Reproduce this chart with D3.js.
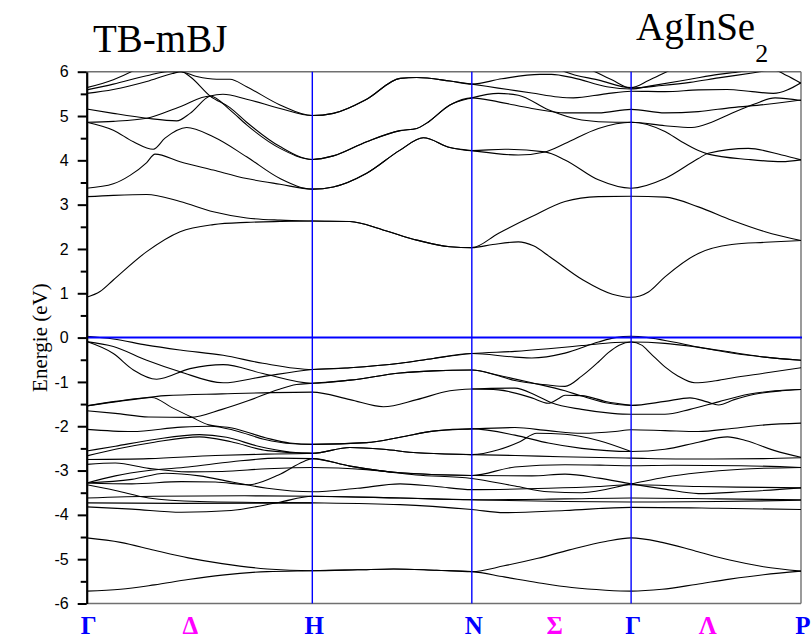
<!DOCTYPE html>
<html>
<head>
<meta charset="utf-8">
<script src="https://cdn.jsdelivr.net/npm/d3@7"></script>
<style>
  html, body { margin: 0; padding: 0; background: #fff; }
  svg { display: block; }
</style>
</head>
<body>
<svg id="chart" width="811" height="639"></svg>
<script>
// High-symmetry points along the path and their k positions
const symLabels = ["Γ", "H", "N", "Γ", "P"];
const symK = [0, 1.0, 1.707, 2.413, 3.166];
// Line labels between the points
const lineLabels = ["Δ", "Σ", "Λ"];
const lineK = [0.459, 2.074, 2.752];
// Energy axis (eV)
const yMajor = [-6, -5, -4, -3, -2, -1, 0, 1, 2, 3, 4, 5, 6];
const yMinor = [-5.5, -4.5, -3.5, -2.5, -1.5, -0.5, 0.5, 1.5, 2.5, 3.5, 4.5, 5.5];

// Conduction bands: [k, E]
const conductionBands = [
  [[0,0.91],[0.059,1.04],[0.118,1.30],[0.266,1.94],[0.414,2.39],[0.561,2.55],[0.709,2.60],[0.857,2.62],[1.0,2.63],[1.167,2.62],[1.313,2.43],[1.463,2.20],[1.61,2.05],[1.707,2.03],[1.80,2.10],[1.913,2.16],[1.98,2.07],[2.054,1.82],[2.2,1.30],[2.33,0.98],[2.413,0.91],[2.49,1.03],[2.563,1.37],[2.711,1.90],[2.859,2.10],[3.007,2.15],[3.166,2.19]],
  [[0,3.18],[0.118,3.21],[0.266,3.23],[0.414,3.07],[0.561,2.84],[0.709,2.70],[0.857,2.65],[1.0,2.63],[1.167,2.62],[1.313,2.43],[1.463,2.20],[1.61,2.05],[1.707,2.03],[1.824,2.35],[1.973,2.73],[2.12,3.07],[2.268,3.18],[2.413,3.19],[2.563,3.17],[2.711,2.95],[2.859,2.65],[3.007,2.39],[3.166,2.19]],
  [[0,3.37],[0.118,3.47],[0.192,3.66],[0.266,3.95],[0.303,4.14],[0.414,3.97],[0.561,3.78],[0.709,3.59],[0.857,3.46],[1.0,3.35],[1.093,3.40],[1.241,3.71],[1.389,4.23],[1.492,4.51],[1.61,4.29],[1.707,4.22],[1.854,4.25],[2.031,4.19],[2.12,4.01],[2.268,3.56],[2.413,3.37],[2.563,3.59],[2.711,4.04],[2.755,4.16],[2.933,4.27],[3.081,4.12],[3.166,4.01]],
  [[0,4.86],[0.118,4.68],[0.207,4.42],[0.295,4.25],[0.347,4.50],[0.443,4.74],[0.561,4.53],[0.709,4.08],[0.857,3.59],[1.0,3.35],[1.093,3.40],[1.241,3.71],[1.389,4.23],[1.492,4.51],[1.61,4.29],[1.707,4.22],[1.913,4.12],[2.031,4.19],[2.12,4.38],[2.268,4.72],[2.413,4.86],[2.563,4.65],[2.637,4.42],[2.711,4.22],[2.755,4.14],[2.933,4.02],[3.081,3.97],[3.166,4.01]],
  [[0,5.16],[0.118,5.06],[0.266,4.95],[0.399,4.89],[0.458,5.06],[0.547,5.45],[0.604,5.49],[0.709,5.38],[0.857,5.17],[1.0,5.01],[1.093,5.06],[1.241,5.38],[1.389,5.85],[1.463,5.87],[1.61,5.79],[1.707,5.72],[1.84,5.84],[2.009,5.94],[2.06,5.94],[2.157,5.86],[2.305,5.66],[2.413,5.61],[2.5,5.68],[2.674,5.83],[2.80,5.94],[2.896,6.0],[3.0,6.1]],
  [[0,4.86],[0.118,4.88],[0.266,4.95],[0.414,5.21],[0.547,5.45],[0.635,5.14],[0.709,4.80],[0.857,4.27],[1.0,4.02],[1.093,4.10],[1.241,4.42],[1.389,4.67],[1.463,4.72],[1.507,4.84],[1.61,5.25],[1.707,5.41],[1.824,5.32],[1.973,5.17],[2.12,5.07],[2.268,5.07],[2.413,5.15],[2.563,5.07],[2.711,5.10],[2.859,5.19],[3.007,5.26],[3.166,5.36]],
  [[0,5.51],[0.118,5.60],[0.266,5.78],[0.38,5.96],[0.42,6.0],[0.46,5.88],[0.547,5.45],[0.635,5.19],[0.709,4.86],[0.857,4.31],[1.0,4.02],[1.093,4.10],[1.241,4.42],[1.389,4.67],[1.463,4.72],[1.507,4.84],[1.61,5.25],[1.707,5.41],[1.824,5.51],[1.913,5.47],[2.046,5.14],[2.194,4.91],[2.342,4.86],[2.413,4.86],[2.563,4.78],[2.682,4.74],[2.77,4.86],[2.859,5.06],[2.96,5.27],[3.051,5.41],[3.166,5.35]],
  [[0,5.59],[0.118,5.72],[0.266,5.91],[0.357,6.0],[0.414,6.0],[0.488,5.89],[0.576,5.83],[0.635,5.83],[0.709,5.66],[0.857,5.25],[1.0,5.01],[1.093,5.06],[1.241,5.38],[1.389,5.85],[1.463,5.87],[1.61,5.79],[1.707,5.72],[1.824,5.63],[1.973,5.52],[2.09,5.43],[2.157,5.41],[2.30,5.50],[2.413,5.56],[2.563,5.55],[2.711,5.59],[2.837,5.60],[2.95,5.55],[3.043,5.51],[3.166,5.75]],
  [[0,5.64],[0.118,5.82],[0.206,6.02],[0.3,6.3],[0.6,6.7],[1.2,6.8],[1.9,6.5],[2.06,6.15],[2.12,6.0],[2.27,5.81],[2.413,5.64],[2.49,5.80],[2.571,6.0],[2.7,6.3],[3.166,6.6]],
  [[1.9,6.8],[2.1,6.4],[2.253,6.0],[2.33,5.81],[2.413,5.63],[2.55,5.69],[2.674,5.76],[2.80,5.86],[2.95,5.97],[3.043,6.04],[3.10,5.92],[3.166,5.74]]
];

// Valence bands: [k, E]
const valenceBands = [
  [[0,0.03],[0.118,-0.03],[0.266,-0.17],[0.414,-0.28],[0.605,-0.40],[0.781,-0.58],[1.0,-0.72],[1.167,-0.68],[1.389,-0.58],[1.536,-0.47],[1.707,-0.36],[1.898,-0.44],[1.973,-0.46],[2.12,-0.35],[2.268,-0.10],[2.342,0.0],[2.413,0.03],[2.489,0.0],[2.60,-0.10],[2.75,-0.25],[2.933,-0.40],[3.166,-0.51]],
  [[0,-0.09],[0.118,-0.20],[0.266,-0.51],[0.414,-0.77],[0.605,-1.02],[0.781,-0.88],[1.0,-0.72],[1.167,-0.68],[1.389,-0.58],[1.536,-0.47],[1.707,-0.36],[1.898,-0.31],[2.046,-0.25],[2.194,-0.18],[2.342,-0.11],[2.413,-0.10],[2.563,-0.13],[2.711,-0.22],[2.859,-0.33],[3.007,-0.44],[3.166,-0.51]],
  [[0,-0.09],[0.118,-0.36],[0.207,-0.73],[0.31,-0.94],[0.458,-0.70],[0.605,-0.61],[0.781,-0.81],[1.0,-1.03],[1.167,-0.96],[1.389,-0.80],[1.536,-0.75],[1.707,-0.73],[1.825,-0.86],[1.898,-0.97],[2.046,-1.07],[2.12,-1.10],[2.194,-0.87],[2.268,-0.55],[2.312,-0.34],[2.36,-0.17],[2.413,-0.10],[2.46,-0.17],[2.50,-0.36],[2.563,-0.66],[2.622,-0.87],[2.696,-1.02],[2.78,-0.98],[2.859,-0.91],[3.007,-0.80],[3.166,-0.68]],
  [[0,-1.65],[0.127,-1.71],[0.275,-1.79],[0.46,-1.80],[0.60,-1.62],[0.718,-1.42],[0.85,-1.17],[0.93,-1.06],[1.0,-1.03],[1.167,-0.96],[1.389,-0.80],[1.536,-0.75],[1.707,-0.73],[1.825,-0.85],[1.973,-1.02],[2.12,-1.20],[2.194,-1.32],[2.30,-1.47],[2.413,-1.53],[2.563,-1.44],[2.674,-1.36],[2.75,-1.45],[2.80,-1.52],[2.87,-1.40],[2.96,-1.28],[3.08,-1.20],[3.166,-1.17]],
  [[0,-1.54],[0.201,-1.40],[0.349,-1.31],[0.6,-1.27],[1.0,-1.23],[1.167,-1.40],[1.315,-1.56],[1.463,-1.40],[1.61,-1.20],[1.707,-1.16],[1.898,-1.14],[1.99,-1.30],[2.06,-1.47],[2.194,-1.62],[2.33,-1.71],[2.413,-1.73],[2.563,-1.73],[2.674,-1.62],[2.80,-1.45],[2.933,-1.28],[3.05,-1.20],[3.166,-1.17]],
  [[1.707,-1.16],[1.825,-1.18],[1.973,-1.36],[2.046,-1.48],[2.09,-1.38],[2.12,-1.30],[2.194,-1.31],[2.30,-1.44],[2.413,-1.53]],
  [[0,-1.54],[0.127,-1.44],[0.289,-1.35],[0.378,-1.58],[0.467,-1.80],[0.541,-1.97],[0.644,-2.04],[0.792,-2.26],[0.9,-2.38],[1.0,-2.41],[1.241,-2.37],[1.389,-2.25],[1.536,-2.11],[1.707,-2.06],[1.898,-2.03],[2.046,-2.10],[2.194,-2.16],[2.342,-2.12],[2.413,-2.08],[2.563,-2.10],[2.711,-2.12],[2.859,-2.05],[3.007,-1.97],[3.166,-1.93]],
  [[0,-2.07],[0.201,-2.12],[0.42,-2.02],[0.55,-2.00],[0.66,-2.10],[0.79,-2.30],[0.9,-2.39],[1.0,-2.41],[1.241,-2.37],[1.389,-2.25],[1.536,-2.11],[1.707,-2.06],[1.898,-2.20],[2.046,-2.38],[2.194,-2.50],[2.413,-2.57],[2.563,-2.52],[2.711,-2.36],[2.84,-2.24],[2.92,-2.32],[3.05,-2.55],[3.166,-2.70]],
  [[0,-2.56],[0.127,-2.45],[0.3,-2.30],[0.5,-2.19],[0.62,-2.25],[0.76,-2.45],[0.9,-2.58],[1.0,-2.61],[1.167,-2.48],[1.315,-2.52],[1.463,-2.60],[1.707,-2.64],[1.825,-2.53],[1.92,-2.35],[1.995,-2.16],[2.12,-2.18],[2.268,-2.32],[2.413,-2.57]],
  [[0,-2.67],[0.127,-2.52],[0.3,-2.36],[0.5,-2.24],[0.64,-2.35],[0.8,-2.55],[1.0,-2.61],[1.167,-2.48],[1.315,-2.52],[1.463,-2.60],[1.707,-2.64],[1.9,-2.66],[2.1,-2.69],[2.413,-2.72],[2.7,-2.74],[3.0,-2.73],[3.166,-2.71]],
  [[0,-2.75],[0.275,-2.73],[0.57,-2.66],[0.79,-2.63],[0.93,-2.62],[1.0,-2.61]],
  [[0,-3.28],[0.127,-3.12],[0.275,-3.00],[0.45,-2.92],[0.644,-2.80],[0.85,-2.72],[1.0,-2.73],[1.167,-2.90],[1.389,-3.05],[1.707,-3.11],[1.898,-2.92],[2.12,-2.87],[2.30,-2.88],[2.413,-2.89],[2.6,-2.88],[2.9,-2.89],[3.166,-2.93]],
  [[0,-3.28],[0.2,-3.30],[0.42,-3.25],[0.57,-3.26],[0.718,-3.32],[0.85,-3.10],[0.96,-2.80],[1.0,-2.73],[1.167,-2.90],[1.389,-3.05],[1.707,-3.11],[1.973,-3.12],[2.12,-3.08],[2.27,-3.17],[2.413,-3.30],[2.563,-3.42],[2.711,-3.52],[2.90,-3.48],[3.166,-3.39]],
  [[0,-2.86],[0.127,-2.83],[0.275,-2.95],[0.45,-3.03],[0.6,-3.02],[0.8,-2.96],[1.0,-2.93],[1.24,-2.98],[1.46,-3.10],[1.707,-3.18],[1.898,-3.35],[2.046,-3.48],[2.194,-3.50],[2.413,-3.30],[2.563,-3.15],[2.711,-3.05],[2.90,-2.97],[3.166,-2.93]],
  [[0,-3.28],[0.2,-3.20],[0.349,-3.06],[0.5,-3.12],[0.644,-3.26],[0.8,-3.40],[1.0,-3.48],[1.2,-3.40],[1.389,-3.30],[1.55,-3.36],[1.707,-3.43],[2.046,-3.40],[2.268,-3.36],[2.413,-3.32],[2.711,-3.36],[3.0,-3.38],[3.166,-3.39]],
  [[0,-3.62],[0.3,-3.58],[0.7,-3.57],[1.0,-3.58],[1.389,-3.62],[1.707,-3.66],[2.12,-3.64],[2.413,-3.62],[2.80,-3.64],[3.166,-3.66]],
  [[0,-3.82],[0.2,-3.87],[0.42,-3.94],[0.64,-3.90],[0.85,-3.72],[1.0,-3.58],[1.389,-3.62],[1.707,-3.66],[2.12,-3.70],[2.413,-3.71],[2.8,-3.70],[3.166,-3.67]],
  [[0,-3.32],[0.127,-3.45],[0.275,-3.62],[0.5,-3.70],[0.75,-3.72],[1.0,-3.73],[1.389,-3.77],[1.707,-3.88],[1.85,-3.95],[2.12,-3.90],[2.413,-3.83],[2.8,-3.85],[3.166,-3.88]],
  [[0,-3.73],[0.4,-3.74],[1.0,-3.73]]
];

// Semi-core bands: [k, E]
const semicoreBands = [
  [[0,-4.52],[0.15,-4.62],[0.30,-4.80],[0.45,-4.97],[0.6,-5.10],[0.8,-5.22],[1.0,-5.26],[1.2,-5.24],[1.36,-5.22],[1.55,-5.25],[1.707,-5.28],[1.85,-5.15],[2.0,-4.98],[2.14,-4.79],[2.3,-4.60],[2.413,-4.52],[2.55,-4.62],[2.7,-4.82],[2.85,-5.02],[3.0,-5.17],[3.166,-5.27]],
  [[0,-5.72],[0.15,-5.68],[0.30,-5.58],[0.45,-5.46],[0.6,-5.36],[0.8,-5.28],[1.0,-5.26],[1.2,-5.24],[1.36,-5.22],[1.55,-5.25],[1.707,-5.28],[1.85,-5.40],[2.0,-5.53],[2.15,-5.64],[2.3,-5.70],[2.413,-5.72],[2.55,-5.68],[2.7,-5.57],[2.85,-5.45],[3.0,-5.35],[3.166,-5.27]]
];

const svg = d3.select("#chart");
const plotLeft = 86.7, plotRight = 801, plotTop = 71.7, plotBottom = 603.5;

const x = d3.scaleLinear().domain([0, 3.166]).range([plotLeft, plotRight]);
const y = d3.scaleLinear().domain([-6, 6]).range([plotBottom, plotTop]);

svg.append("defs").append("clipPath").attr("id", "plotClip")
  .append("rect")
  .attr("x", plotLeft).attr("y", plotTop)
  .attr("width", plotRight - plotLeft).attr("height", plotBottom - plotTop);

// Frame (top, right, bottom) in grey
const frame = svg.append("g").attr("fill", "none").attr("stroke", "#707070").attr("stroke-width", 1.4);
frame.append("line").attr("x1", plotLeft).attr("x2", plotRight).attr("y1", plotTop).attr("y2", plotTop);
frame.append("line").attr("x1", plotRight).attr("x2", plotRight).attr("y1", plotTop).attr("y2", plotBottom);
frame.append("line").attr("x1", plotLeft).attr("x2", plotRight).attr("y1", plotBottom).attr("y2", plotBottom);

// Bands
const bandLine = d3.line()
  .x(d => x(d[0]))
  .y(d => y(d[1]))
  .curve(d3.curveMonotoneX);

const bandsG = svg.append("g").attr("clip-path", "url(#plotClip)")
  .attr("fill", "none").attr("stroke", "#000").attr("stroke-width", 1.1);

[conductionBands, valenceBands, semicoreBands].forEach(set => {
  bandsG.selectAll(null).data(set).enter().append("path").attr("d", bandLine);
});

// Symmetry lines and the Fermi level
const guides = svg.append("g").attr("stroke", "#0000ff");
guides.selectAll(null).data(symK.slice(1, -1)).enter().append("line")
  .attr("x1", d => x(d)).attr("x2", d => x(d))
  .attr("y1", plotTop).attr("y2", plotBottom)
  .attr("stroke-width", 1.4);
guides.append("line")
  .attr("x1", plotLeft).attr("x2", plotRight + 1)
  .attr("y1", y(0)).attr("y2", y(0))
  .attr("stroke-width", 2);

// Energy axis
const yAxis = d3.axisLeft(y)
  .tickValues(yMajor)
  .tickFormat(d => String(d))
  .tickSize(9)
  .tickSizeOuter(0)
  .tickPadding(9);
const yAxisMinor = d3.axisLeft(y)
  .tickValues(yMinor)
  .tickFormat("")
  .tickSize(6)
  .tickSizeOuter(0);

const axG = svg.append("g").attr("transform", `translate(${plotLeft},0)`).call(yAxis);
const axMinorG = svg.append("g").attr("transform", `translate(${plotLeft},0)`).call(yAxisMinor);
[axG, axMinorG].forEach(g => {
  g.select(".domain").attr("stroke", "#000").attr("stroke-width", 2.2);
  g.selectAll(".tick line").attr("stroke", "#000").attr("stroke-width", 2);
});
axMinorG.select(".domain").remove();
axG.selectAll(".tick text")
  .attr("font-family", "'Liberation Sans', Arial, sans-serif")
  .attr("font-size", 16)
  .attr("fill", "#000");

// Axis title
const serif = "'Liberation Serif', 'Times New Roman', serif";
svg.append("text")
  .attr("transform", `translate(47,${y(0)}) rotate(-90)`)
  .attr("text-anchor", "middle")
  .attr("font-family", serif)
  .attr("font-size", 21)
  .attr("fill", "#000")
  .text("Energie (eV)");

// k-path labels
svg.append("g").selectAll(null).data(symLabels.map((t, i) => ({ t, k: symK[i] }))).enter()
  .append("text")
  .attr("x", d => x(d.k) + 2)
  .attr("y", 634)
  .attr("text-anchor", "middle")
  .attr("font-family", serif)
  .attr("font-weight", "bold")
  .attr("font-size", 25)
  .attr("fill", "#0000ff")
  .text(d => d.t);
svg.append("g").selectAll(null).data(lineLabels.map((t, i) => ({ t, k: lineK[i] }))).enter()
  .append("text")
  .attr("x", d => x(d.k))
  .attr("y", 634)
  .attr("text-anchor", "middle")
  .attr("font-family", serif)
  .attr("font-weight", "bold")
  .attr("font-size", 25)
  .attr("fill", "#ff00ff")
  .text(d => d.t);

// Titles
svg.append("text")
  .attr("x", 93).attr("y", 52)
  .attr("font-family", serif)
  .attr("font-size", 39)
  .attr("fill", "#000")
  .text("TB-mBJ");

const compound = svg.append("text")
  .attr("x", 636).attr("y", 40)
  .attr("font-family", serif)
  .attr("font-size", 39)
  .attr("fill", "#000");
compound.append("tspan").text("AgInSe");
compound.append("tspan").attr("font-size", 26).attr("dy", 22).text("2");
</script>
</body>
</html>
